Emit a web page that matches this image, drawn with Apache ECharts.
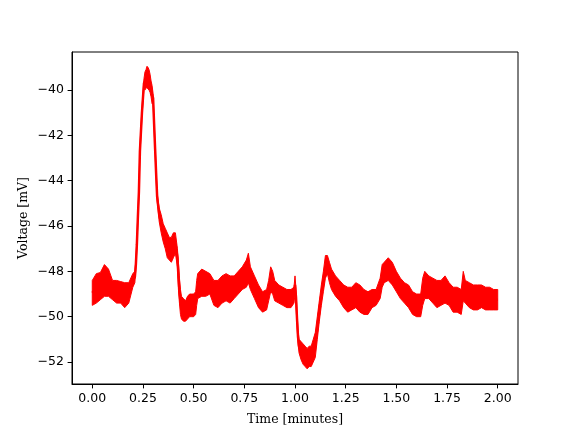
<!DOCTYPE html>
<html>
<head>
<meta charset="utf-8">
<script src="https://cdn.jsdelivr.net/npm/echarts@6/dist/echarts.min.js"></script>
<style>html,body{margin:0;padding:0;background:#fff}#c{width:576px;height:432px}</style>
</head>
<body>
<div id="c"></div>
<script>
// Time samples (minutes) and the read upper / lower edges of the noisy trace (mV)
var timeMin = [0.00,0.02,0.04,0.06,0.08,0.10,0.12,0.14,0.16,0.18,0.20,0.21,0.215,0.22,0.225,0.23,0.235,0.24,0.245,0.25,0.255,0.26,0.265,0.27,0.275,0.28,0.285,0.29,0.295,0.30,0.305,0.31,0.315,0.32,0.325,0.33,0.34,0.35,0.36,0.37,0.38,0.39,0.40,0.41,0.42,0.425,0.43,0.435,0.44,0.45,0.46,0.47,0.48,0.49,0.50,0.51,0.515,0.52,0.54,0.56,0.58,0.60,0.62,0.64,0.66,0.68,0.70,0.72,0.74,0.76,0.77,0.78,0.80,0.82,0.84,0.86,0.87,0.88,0.89,0.90,0.92,0.94,0.96,0.98,0.995,1.00,1.005,1.01,1.015,1.02,1.03,1.04,1.05,1.06,1.07,1.08,1.09,1.10,1.11,1.12,1.13,1.14,1.15,1.16,1.17,1.18,1.20,1.22,1.24,1.26,1.28,1.30,1.32,1.34,1.36,1.38,1.40,1.42,1.43,1.44,1.46,1.48,1.50,1.52,1.54,1.56,1.58,1.60,1.62,1.63,1.64,1.66,1.68,1.70,1.72,1.74,1.76,1.78,1.80,1.82,1.83,1.84,1.86,1.88,1.90,1.92,1.94,1.96,1.98,2.00];
var upperMV = [-48.4,-48.1,-48.05,-47.7,-47.9,-48.4,-48.4,-48.45,-48.5,-48.5,-48.1,-48.0,-47.5,-46.6,-45.4,-44.3,-42.5,-41.65,-40.8,-40.15,-39.5,-39.2,-39.1,-38.95,-39.0,-39.1,-39.3,-39.6,-39.8,-40.15,-41.3,-42.4,-43.5,-44.5,-44.9,-45.2,-45.5,-45.9,-46.1,-46.3,-46.5,-46.5,-46.3,-46.3,-47.0,-47.6,-48.3,-48.8,-49.1,-49.2,-49.3,-49.1,-49.0,-49.0,-49.0,-48.9,-48.4,-48.1,-47.9,-48.0,-48.1,-48.4,-48.4,-48.2,-48.1,-48.2,-48.2,-48.0,-47.8,-47.5,-47.2,-47.8,-48.2,-48.6,-48.9,-48.8,-48.4,-47.8,-48.0,-48.4,-48.6,-48.7,-48.8,-48.8,-48.7,-48.2,-48.8,-49.8,-50.6,-51.0,-51.1,-51.2,-51.3,-51.4,-51.3,-51.3,-51.0,-50.7,-50.0,-49.3,-48.6,-48.0,-47.3,-47.3,-47.6,-47.9,-48.2,-48.4,-48.6,-48.7,-48.7,-48.5,-48.6,-48.8,-48.9,-48.8,-48.8,-48.3,-47.7,-47.6,-47.4,-47.6,-48.0,-48.3,-48.5,-48.6,-48.9,-49.0,-49.0,-48.3,-48.0,-48.2,-48.3,-48.4,-48.4,-48.2,-48.5,-48.7,-48.7,-48.8,-48.0,-48.4,-48.5,-48.6,-48.6,-48.6,-48.7,-48.7,-48.8,-48.8];
var lowerMV = [-49.5,-49.4,-49.25,-49.1,-49.1,-49.25,-49.4,-49.4,-49.6,-49.4,-48.7,-48.5,-47.9,-47.0,-45.8,-44.7,-42.9,-42.05,-41.2,-40.55,-39.9,-40.0,-39.9,-39.9,-39.95,-40.0,-40.1,-40.3,-40.6,-40.55,-41.7,-42.8,-43.9,-44.9,-45.3,-45.8,-46.3,-46.7,-47.0,-47.4,-47.5,-47.6,-47.4,-47.2,-47.8,-48.8,-49.4,-49.9,-50.1,-50.2,-50.2,-50.1,-50.0,-50.0,-50.0,-49.9,-49.5,-49.2,-49.1,-49.1,-49.0,-49.5,-49.6,-49.4,-49.3,-49.4,-49.2,-49.0,-48.8,-48.7,-48.5,-48.8,-49.2,-49.6,-49.8,-49.7,-49.3,-48.9,-49.0,-49.3,-49.4,-49.5,-49.6,-49.6,-49.4,-49.0,-49.5,-50.4,-51.2,-51.6,-51.9,-52.1,-52.2,-52.3,-52.2,-52.2,-52.0,-51.8,-51.0,-50.2,-49.5,-48.9,-48.3,-48.1,-48.5,-48.8,-49.1,-49.3,-49.6,-49.8,-49.7,-49.6,-49.8,-49.9,-49.9,-49.6,-49.5,-49.2,-48.7,-48.5,-48.4,-48.6,-48.9,-49.2,-49.4,-49.6,-49.9,-50.0,-50.0,-49.5,-49.2,-49.2,-49.4,-49.6,-49.5,-49.4,-49.5,-49.8,-49.8,-49.9,-49.3,-49.4,-49.6,-49.7,-49.7,-49.6,-49.7,-49.7,-49.7,-49.7];
var xTicks = [0,0.25,0.5,0.75,1.0,1.25,1.5,1.75,2.0];
var yTicks = [-52,-50,-48,-46,-44,-42,-40];

var midData = [];
for (var i = 0; i < timeMin.length; i++) {
  midData.push([timeMin[i], (upperMV[i] + lowerMV[i]) / 2]);
}

var RED = '#ff0000';
var chart = echarts.init(document.getElementById('c'), null, {renderer: 'canvas'});
var tickFont = {fontFamily: 'DejaVu Sans', fontSize: 12.5, color: '#000'};
var nameFont = {fontFamily: 'DejaVu Serif', fontSize: 12.5, color: '#000'};
chart.setOption({
  animation: false,
  backgroundColor: '#fff',
  grid: {left: 72, right: 58, top: 52, bottom: 48, show: true, borderColor: '#000', borderWidth: 1, backgroundColor: 'transparent'},
  xAxis: {
    type: 'value', min: -0.1, max: 2.1,
    name: 'Time [minutes]', nameLocation: 'middle', nameGap: 29, nameTextStyle: nameFont, nameMoveOverlap: false,
    axisLine: {show: true, onZero: false, lineStyle: {color: '#000', width: 1}},
    axisTick: {show: true, inside: false, length: 4.4, customValues: xTicks, lineStyle: {color: '#000', width: 1}},
    axisLabel: Object.assign({margin: 8, customValues: xTicks, formatter: function (v) { return v.toFixed(2); }}, tickFont),
    splitLine: {show: false}
  },
  yAxis: {
    type: 'value', min: -52.97, max: -38.32,
    name: 'Voltage [mV]', nameLocation: 'middle', nameGap: 42, nameRotate: 90, nameTextStyle: nameFont, nameMoveOverlap: false,
    axisLine: {show: true, onZero: false, lineStyle: {color: '#000', width: 1}},
    axisTick: {show: true, inside: false, length: 4.4, customValues: yTicks, lineStyle: {color: '#000', width: 1}},
    axisLabel: Object.assign({margin: 8, customValues: yTicks, formatter: function (v) { return v < 0 ? '\u2212' + Math.abs(v) : String(v); }}, tickFont),
    splitLine: {show: false}
  },
  series: [
    {
      // noise envelope: one filled polygon between the upper and lower edges
      type: 'custom', silent: true, clip: true,
      data: [[timeMin[0], upperMV[0]]],
      renderItem: function (params, api) {
        var pts = [];
        for (var k = 0; k < timeMin.length; k++) pts.push(api.coord([timeMin[k], upperMV[k]]));
        for (var m = timeMin.length - 1; m >= 0; m--) pts.push(api.coord([timeMin[m], lowerMV[m]]));
        return {type: 'polygon', shape: {points: pts},
                style: {fill: RED, stroke: RED, lineWidth: 1}};
      }
    },
    {type: 'line', data: midData, symbol: 'none', silent: true, lineStyle: {color: RED, width: 2.5}}
  ]
});
</script>
</body>
</html>
